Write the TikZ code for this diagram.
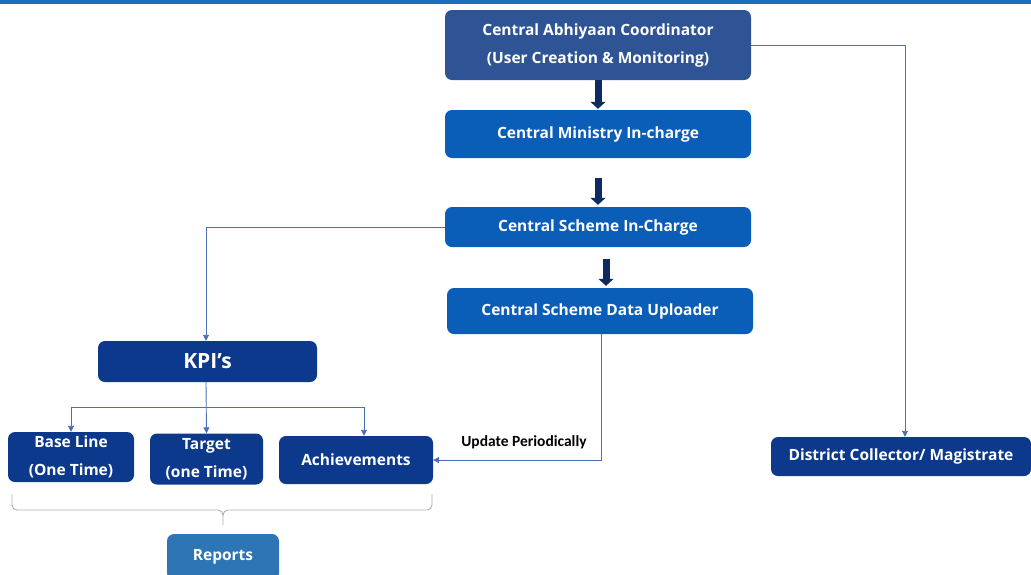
\documentclass[tikz,border=0pt]{standalone}
\usepackage{fontspec}
\setmainfont{Open Sans}
\newfontfamily\calfont{Carlito}
\usetikzlibrary{arrows.meta,calc}
\definecolor{topbar}{RGB}{26,109,184}
\definecolor{slate}{RGB}{47,84,150}
\definecolor{midblue}{RGB}{10,94,184}
\definecolor{navy}{RGB}{13,57,140}
\definecolor{lightblue}{RGB}{46,117,182}
\definecolor{arrownavy}{RGB}{14,42,94}
\definecolor{thinline}{RGB}{74,111,181}
\definecolor{bracegray}{RGB}{175,175,175}
\tikzset{
  box/.style={rounded corners=7pt, text=white, font=\bfseries\fontsize{15.5}{28}\selectfont, align=center, inner sep=0pt},
  bigarrow/.style={draw=arrownavy, line width=7pt, -{Triangle[width=15pt,length=7pt]}},
  thin/.style={draw=thinline, line width=0.9pt, -{Triangle[width=6pt,length=6pt]}},
}
\begin{document}
\begin{tikzpicture}[x=1pt,y=-1pt]
\useasboundingbox (0,0) rectangle (1031,574);
\fill[topbar] (0,0) rectangle (1031,3.5);
% boxes
\node[box, fill=slate, minimum width=306pt, minimum height=70pt] (coord) at (598,45) {Central Abhiyaan Coordinator\\(User Creation \& Monitoring)};
\node[box, fill=midblue, minimum width=306pt, minimum height=48pt] (min) at (598,134) {Central Ministry In-charge};
\node[box, fill=midblue, minimum width=306pt, minimum height=40pt] (sch) at (598,227) {Central Scheme In-Charge};
\node[box, fill=midblue, minimum width=306pt, minimum height=46pt] (up) at (600,311) {Central Scheme Data Uploader};
\node[box, fill=navy, minimum width=219pt, minimum height=41pt, font=\bfseries\fontsize{21}{24}\selectfont] (kpi) at (207.5,361.5) {KPI’s};
\node[box, fill=navy, minimum width=126pt, minimum height=50pt] (base) at (71,457) {Base Line\\(One Time)};
\node[box, fill=navy, minimum width=113pt, minimum height=51pt] (tgt) at (206.5,459) {Target\\(one Time)};
\node[box, fill=navy, minimum width=154pt, minimum height=48pt] (ach) at (356,460) {Achievements};
\node[box, fill=navy, minimum width=260pt, minimum height=39pt] (dist) at (901,456.5) {District Collector/ Magistrate};
\node[box, fill=lightblue, minimum width=112pt, minimum height=46pt] (rep) at (223,557) {Reports};
% thick arrows
\draw[bigarrow] (coord.south) -- ([yshift=1pt]min.north);
\draw[bigarrow] ([yshift=-20pt]min.south) -- ([yshift=2pt]sch.north);
\draw[bigarrow] ([xshift=8pt,yshift=-12pt]sch.south) -- ([xshift=6pt,yshift=2pt]up.north);
% thin connectors
\draw[thin] (coord.east) -| ([xshift=4pt]dist.north);
\draw[thin] (sch.west) -| ([xshift=-1.5pt]kpi.north);
\draw[thin] ([xshift=-1.5pt]kpi.south) -- (tgt.north);
\coordinate (hl) at (71,407);
\coordinate (hr) at (364,407);
\draw[draw=thinline, line width=0.9pt] (hl) -- (hr);
\draw[thin] (hl) -- (hl |- base.north);
\draw[thin] (hr) -- (hr |- ach.north);
\coordinate (upb) at (601,460);
\draw[thin] (up.south -| upb) -- (upb) -- (ach.east);
\node[font=\calfont\bfseries\fontsize{15.5}{18}\selectfont, anchor=center] (lbl) at (524,442) {Update Periodically};
% brace
\draw[bracegray, line width=0.9pt, rounded corners=5pt] (12,494) -- (12,510) -- (223,510) -- (223,525);
\draw[bracegray, line width=0.9pt, rounded corners=5pt] (223,516) -- (223,510) -- (432,510) -- (432,494);
\end{tikzpicture}
\end{document}
